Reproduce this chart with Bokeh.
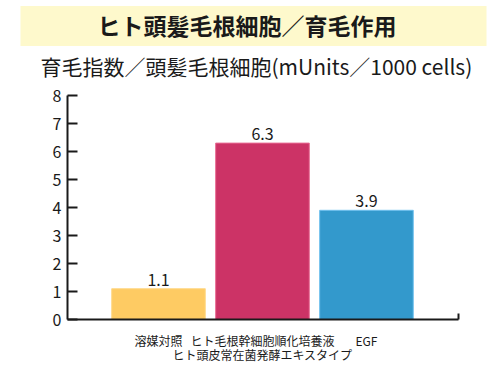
from bokeh.plotting import figure
from bokeh.models import Title, FixedTicker, ColumnDataSource, Range1d
from bokeh.core.properties import value
from bokeh.embed import file_html
from bokeh.resources import INLINE

title_text = "ヒト頭髪毛根細胞／育毛作用"
subtitle_text = "育毛指数／頭髪毛根細胞(mUnits／1000 cells)"
categories = ["溶媒対照", "ヒト毛根幹細胞順化培養液\nヒト頭皮常在菌発酵エキスタイプ", "EGF"]
positions = [1, 2, 3]
values = [1.1, 6.3, 3.9]
value_labels = ["1.1", "6.3", "3.9"]
colors = ["#FECB63", "#CC3366", "#3399CC"]
outline_colors = ["#FFD98A", "#E86A92", "#6FC0EE"]
y_ticks = [0, 1, 2, 3, 4, 5, 6, 7, 8]

FONT = "Noto Sans CJK JP"
TXT = "#1a1a1a"
X_START, X_END = 0.125, 3.885

p = figure(width=500, height=374, output_backend="svg", toolbar_location=None,
           x_range=Range1d(X_START, X_END), y_range=Range1d(0, 8),
           min_border_left=67, min_border_right=42, min_border_top=95, min_border_bottom=55)
p.outline_line_color = None
p.xgrid.visible = False
p.ygrid.visible = False
p.background_fill_color = "white"
p.border_fill_color = "white"

src = ColumnDataSource(dict(x=positions, top=values, color=colors, lc=outline_colors, lab=value_labels))
p.vbar(x="x", top="top", bottom=0, width=0.9, fill_color="color", line_color="lc", line_width=1, source=src)
p.text(x="x", y="top", text="lab", source=src, text_align="center", text_baseline="bottom",
       y_offset=-3, text_font=value(FONT), text_font_size="16px", text_color=TXT)

# y axis
p.yaxis.ticker = FixedTicker(ticks=y_ticks)
p.yaxis.major_tick_in = 10
p.yaxis.major_tick_out = 0
p.yaxis.minor_tick_line_color = None
p.yaxis.axis_line_width = 2
p.yaxis.major_tick_line_width = 2
p.yaxis.axis_line_color = TXT
p.yaxis.major_tick_line_color = TXT
p.yaxis.major_label_text_font = FONT
p.yaxis.major_label_text_font_size = "16px"
p.yaxis.major_label_text_color = TXT
p.yaxis.major_label_standoff = 6

# x axis
p.xaxis.ticker = FixedTicker(ticks=positions, minor_ticks=[X_END])
p.xaxis.major_label_overrides = {pos: c for pos, c in zip(positions, categories)}
p.xaxis.major_tick_in = 0
p.xaxis.major_tick_out = 0
p.xaxis.minor_tick_in = 6
p.xaxis.minor_tick_out = 0
p.xaxis.minor_tick_line_width = 2
p.xaxis.minor_tick_line_color = TXT
p.xaxis.axis_line_width = 2
p.xaxis.axis_line_color = TXT
p.xaxis.major_label_text_font = FONT
p.xaxis.major_label_text_font_size = "12px"
p.xaxis.major_label_text_line_height = 0.87
p.xaxis.major_label_text_color = TXT
p.xaxis.major_label_standoff = 12

# spacer between subtitle and plot area
p.add_layout(Title(text=" ", standoff=12, text_font=FONT, text_font_size="1px"), "above")
# subtitle
p.add_layout(Title(text=subtitle_text, align="left", offset=-27, standoff=0,
                   text_font=FONT, text_font_size="21px", text_font_style="normal",
                   text_color=TXT), "above")
# title band
p.add_layout(Title(text=title_text, align="left", offset=-47, standoff=5,
                   text_font=FONT, text_font_size="23px", text_font_style="bold",
                   text_color=TXT, background_fill_color="#FEF9CC",
                   padding=dict(left=77, right=90, top=2, bottom=4)), "above")

open("out.html", "w").write(file_html(p, INLINE))
